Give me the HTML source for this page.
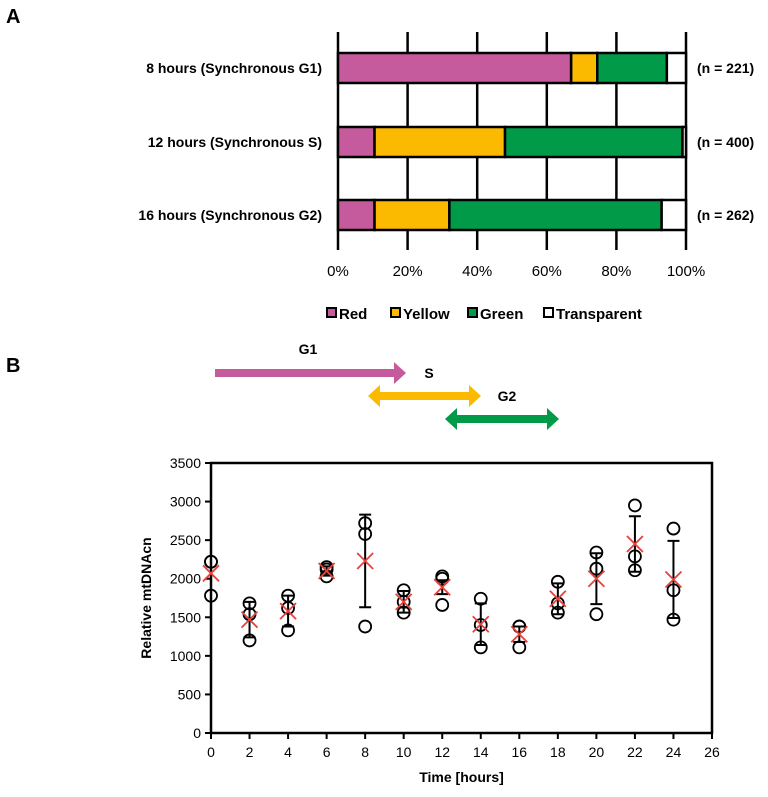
<!DOCTYPE html>
<html><head><meta charset="utf-8"><style>
body{margin:0;background:#fff;width:768px;height:792px;overflow:hidden;font-family:"Liberation Sans",Arial,sans-serif}
svg text{font-family:"Liberation Sans",Arial,sans-serif}
</style></head><body>
<svg id="fig" width="768" height="792" viewBox="0 0 768 792" xmlns="http://www.w3.org/2000/svg">
<text x="6" y="23" font-size="20" font-weight="bold">A</text>
<text x="6" y="372" font-size="20" font-weight="bold">B</text>
<g id="pa"></g>
<g id="pb"></g>
</svg>
<script>
// Panel A data
const rowLabels = ["8 hours (Synchronous G1)","12 hours (Synchronous S)","16 hours (Synchronous G2)"];
const nLabels = ["(n = 221)","(n = 400)","(n = 262)"];
const redPct = [67, 10.5, 10.5];
const yellowPct = [7.5, 37.5, 21.5];
const greenPct = [20, 51, 61];
const transparentPct = [5.5, 1, 7];
const pctTicks = [0,20,40,60,80,100];
const seriesNames = ["Red","Yellow","Green","Transparent"];
// Panel B data
const times = [0,2,4,6,8,10,12,14,16,18,20,22,24];
const rep1 = [2220,1680,1780,2150,2720,1850,2030,1740,1380,1960,2340,2950,2650];
const rep2 = [2220,1540,1620,2120,2580,1700,2000,1400,1380,1680,2130,2290,1850];
const rep3 = [1780,1200,1330,2030,1380,1560,1660,1110,1110,1560,1540,2110,1470];
const means = [2070,1470,1580,2100,2230,1700,1890,1410,1280,1740,2000,2450,1990];
const sds = [0,230,200,60,600,140,90,270,100,200,330,360,500];
const yTicks = [0,500,1000,1500,2000,2500,3000,3500];
const xTicks = [0,2,4,6,8,10,12,14,16,18,20,22,24,26];

const NS="http://www.w3.org/2000/svg";
function mk(p,tag,at,txt){const e=document.createElementNS(NS,tag);for(const k in at)e.setAttribute(k,at[k]);if(txt!==undefined)e.textContent=txt;p.appendChild(e);return e;}
const colors=["#c55a9c","#fbb900","#009a49","#ffffff"];

// ---- Panel A
const pa=document.getElementById('pa');
const ax0=338, ax1=686, ayTop=32, ayBot=250;
const px=v=>ax0+(ax1-ax0)*v/100;
const rowY=[53,127,200], barH=30;
pctTicks.forEach(t=>{
  const g=mk(pa,'line',{x1:px(t),x2:px(t),y1:ayTop,y2:ayBot,stroke:'#000','stroke-width':2.5});
  
  
  const l=mk(pa,'text',{x:px(t),y:276,'font-size':15,'text-anchor':'middle'},t+'%');
  
  
});
const sets=[redPct,yellowPct,greenPct,transparentPct];
rowLabels.forEach((lab,i)=>{
  let acc=0;
  sets.forEach((s,j)=>{
    const r=mk(pa,'rect',{x:px(acc),y:rowY[i],width:px(acc+s[i])-px(acc),height:barH,fill:colors[j],stroke:'#000','stroke-width':2.5});
    
    
    acc+=s[i];
  });
  const t=mk(pa,'text',{x:322,y:rowY[i]+barH/2+5,'font-size':14,'font-weight':'bold','text-anchor':'end'},lab);
  
  
  const n=mk(pa,'text',{x:697,y:rowY[i]+barH/2+5,'font-size':14,'font-weight':'bold'},nLabels[i]);
  
  
});
const legX=[327,391,468,544];
seriesNames.forEach((s,j)=>{
  const g=mk(pa,'g',{});
  
  
  mk(g,'rect',{x:legX[j],y:308,width:9,height:9,fill:colors[j],stroke:'#000','stroke-width':2});
  mk(g,'text',{x:legX[j]+12,y:319,'font-size':15,'font-weight':'bold'},s);
});

// ---- Panel B
const pb=document.getElementById('pb');
const bx0=211, bx1=712, byTop=463, byBot=733;
const sx=v=>bx0+(bx1-bx0)*v/26;
const sy=v=>byBot-(byBot-byTop)*v/3500;
function arrow(x1,x2,y,col,dbl,name){
  const g=mk(pb,'g',{});
  
  
  const hw=12;
  const pts=[];
  if(dbl){pts.push([x1,y],[x1+hw,y-11],[x1+hw,y-4]);}else{pts.push([x1,y-4]);}
  pts.push([x2-hw,y-4],[x2-hw,y-11],[x2,y],[x2-hw,y+11],[x2-hw,y+4]);
  if(dbl){pts.push([x1+hw,y+4],[x1+hw,y+11]);}else{pts.push([x1,y+4]);}
  mk(g,'polygon',{points:pts.map(p=>p.join(',')).join(' '),fill:col});
}
arrow(215,406,373,'#c55a9c',false,'g1-arrow');
arrow(368,481,396,'#fbb900',true,'s-arrow');
arrow(445,559,419,'#009a49',true,'g2-arrow');
[['G1',308,354,'g1-label'],['S',429,378,'s-label'],['G2',507,401,'g2-label']].forEach(a=>{
  const t=mk(pb,'text',{x:a[1],y:a[2],'font-size':14,'font-weight':'bold','text-anchor':'middle'},a[0]);
  
  
});
const frame=mk(pb,'rect',{x:bx0,y:byTop,width:bx1-bx0,height:byBot-byTop,fill:'none',stroke:'#000','stroke-width':2.5});


yTicks.forEach(t=>{
  mk(pb,'line',{x1:bx0-6,x2:bx0,y1:sy(t),y2:sy(t),stroke:'#000','stroke-width':2});
  const l=mk(pb,'text',{x:bx0-10,y:sy(t)+5,'font-size':14,'text-anchor':'end'},t);
  
  
});
xTicks.forEach(t=>{
  mk(pb,'line',{x1:sx(t),x2:sx(t),y1:byBot,y2:byBot+6,stroke:'#000','stroke-width':2});
  const l=mk(pb,'text',{x:sx(t),y:byBot+24,'font-size':14,'text-anchor':'middle'},t);
  
  
});
const xt=mk(pb,'text',{x:(bx0+bx1)/2,y:782,'font-size':14,'font-weight':'bold','text-anchor':'middle'},'Time [hours]');


const yt=mk(pb,'text',{x:0,y:0,'font-size':14,'font-weight':'bold','text-anchor':'middle',transform:'translate(151,'+((byTop+byBot)/2)+') rotate(-90)'},'Relative mtDNAcn');


times.forEach((t,i)=>{
  const x=sx(t);
  if(sds[i]>0){
    const e=mk(pb,'path',{d:`M${x} ${sy(means[i]-sds[i])}V${sy(means[i]+sds[i])}M${x-6} ${sy(means[i]-sds[i])}H${x+6}M${x-6} ${sy(means[i]+sds[i])}H${x+6}`,stroke:'#000','stroke-width':2,fill:'none'});
    
    
  }
  [rep1,rep2,rep3].forEach((r,k)=>{
    const c=mk(pb,'circle',{cx:x,cy:sy(r[i]),r:6,fill:'none',stroke:'#000','stroke-width':1.8});
    
    
  });
  const y=sy(means[i]);
  const m=mk(pb,'path',{d:`M${x-8} ${y-8}L${x+8} ${y+8}M${x-8} ${y+8}L${x+8} ${y-8}`,stroke:'#e8413c','stroke-width':1.8});
  
  
});
</script>
</body></html>
